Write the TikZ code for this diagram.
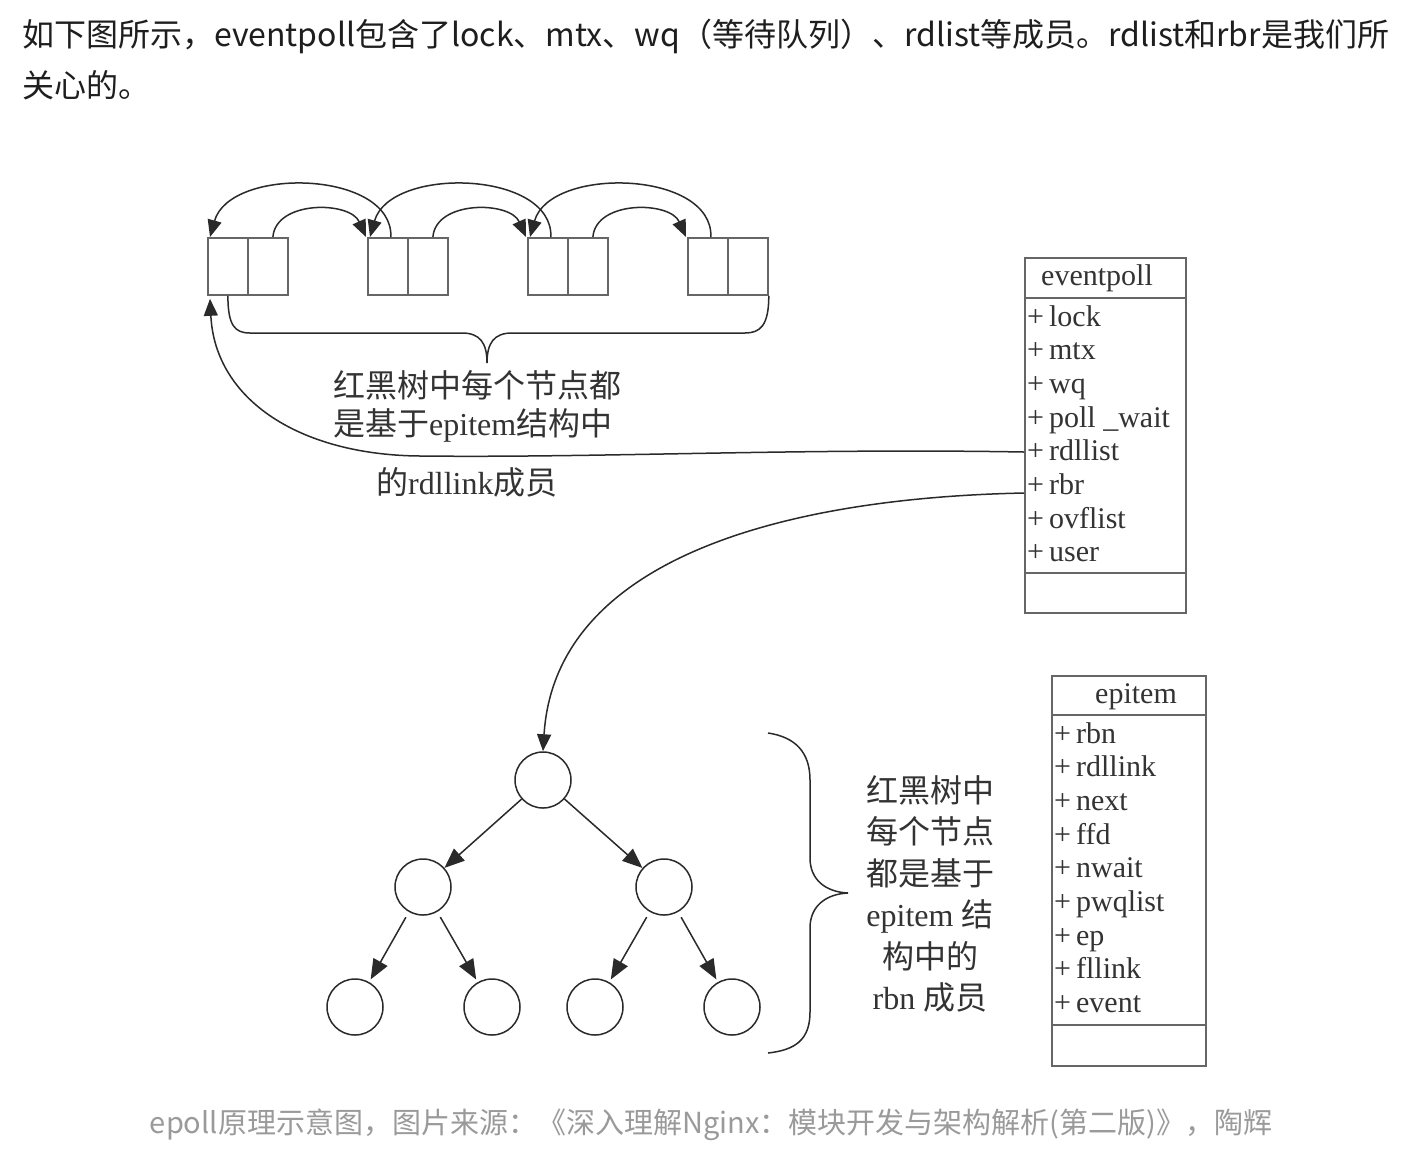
\documentclass[tikz,border=0pt]{standalone}
\usepackage{fontspec}
\setmainfont{Liberation Serif}
\newfontfamily\cjk{Noto Sans CJK SC}
\usetikzlibrary{arrows.meta,calc}
\definecolor{ink}{HTML}{2A2A2A}
\definecolor{boxc}{HTML}{666666}
\definecolor{txt}{HTML}{333333}
\definecolor{capc}{HTML}{9A9A9A}
\definecolor{hdr}{HTML}{1E1E1E}
\begin{document}
\begin{tikzpicture}[x=1pt,y=-1pt,
  cell/.style={draw=boxc, line width=1.8pt, minimum width=40pt, minimum height=57pt, inner sep=0pt, anchor=north west},
  arr/.style={draw=ink, line width=1.5pt, -{Triangle[length=17pt,width=14pt]}},
  tarr/.style={draw=ink, line width=1.5pt, -{Triangle[length=20pt,width=16pt]}},
  link/.style={draw=ink, line width=1.5pt},
  tnode/.style={circle, draw=ink, line width=1.5pt, minimum size=56pt, inner sep=0pt},
  classbox/.style={draw=boxc, line width=1.8pt, inner sep=0pt, anchor=north west},
  divline/.style={draw=boxc, line width=1.8pt},
  item/.style={anchor=base west, inner sep=0pt, text=txt, font=\fontsize{30}{34}\selectfont},
  ttl/.style={anchor=base, inner sep=0pt, text=txt, font=\fontsize{30}{34}\selectfont},
  lbl/.style={inner sep=0pt, text=txt, font=\fontsize{32}{40}\selectfont},
]
\fill[white] (0,0) rectangle (1402,1160);
\useasboundingbox (0,0) rectangle (1402,1160);

% header
\node[anchor=base west, inner sep=0pt, font=\cjk\fontsize{32}{40}\selectfont, text=hdr] (h1) at (22,46) {如下图所示，eventpoll包含了lock、mtx、wq（等待队列）、rdlist等成员。rdlist和rbr是我们所};
\node[anchor=base west, inner sep=0pt, font=\cjk\fontsize{32}{40}\selectfont, text=hdr] (h2) at (22,97) {关心的。};

% linked list cells
\foreach \i/\x in {1/207,2/367,3/527,4/687}{
  \node[cell] (a\i) at (\x,237) {};
  \node[cell] (b\i) at (\x+40,237) {};
}
% forward arcs
\foreach \i/\j in {1/2,2/3,3/4}{
  \draw[arr] ([xshift=5pt]b\i.north) .. controls +(3,-37) and +(-16,-36) .. ([xshift=-1pt]a\j.north west);
}
% backward arcs
\foreach \i/\j in {2/1,3/2,4/3}{
  \draw[arr] ([xshift=3pt]a\i.north) .. controls +(2,-67) and +(20,-71) .. ([xshift=3pt]a\j.north west);
}
% bottom brace
\draw[link] (a1.south) .. controls +(0,30) and +(-15,0) .. (250,333) -- (462,333)
  .. controls +(18,0) and +(0,-20) .. (487,363)
  .. controls +(0,-20) and +(-18,0) .. (512,333) -- (745,333)
  .. controls +(15,0) and +(0,30) .. (b4.south east);

% left label
\node[lbl, anchor=base west] (l1) at (333,397) {\cjk 红黑树中每个节点都};
\node[lbl, anchor=base west] (l2) at (333,435) {{\cjk 是基于}epitem{\cjk 结构中}};
\node[lbl, anchor=base west] (l3) at (376,494) {{\cjk 的}rdllink{\cjk 成员}};

% eventpoll class
\node[classbox, minimum width=161pt, minimum height=355pt] (ep) at (1024,257) {};
\draw[divline] (1024,298) -- (1185,298);
\draw[divline] (1024,573) -- (1185,573);
\node[ttl] (ept) at (1097,285) {eventpoll};
\foreach \k/\t in {1/lock,2/mtx,3/wq,4/poll \_wait,5/rdllist,6/rbr,7/ovflist,8/user}{
  \node[item] (e\k) at (1027,{326+33.7*(\k-1)}) {+\,\t};
}
\coordinate (rdl) at (1024,452);
\coordinate (rbrc) at (1024,493);

% epitem class
\node[classbox, minimum width=154pt, minimum height=390pt] (it) at (1051,675) {};
\draw[divline] (1051,715) -- (1205,715);
\draw[divline] (1051,1025) -- (1205,1025);
\node[ttl] (itt) at (1136,703) {epitem};
\foreach \k/\t in {1/rbn,2/rdllink,3/next,4/ffd,5/nwait,6/pwqlist,7/ep,8/fllink,9/event}{
  \node[item] (m\k) at (1054,{743+33.7*(\k-1)}) {+\,\t};
}

% tree
\node[tnode] (t0) at (543,780) {};
\node[tnode] (t1) at (423,887) {};
\node[tnode] (t2) at (664,887) {};
\node[tnode] (t3) at (355,1007) {};
\node[tnode] (t4) at (492,1007) {};
\node[tnode] (t5) at (595,1007) {};
\node[tnode] (t6) at (732,1007) {};
\draw[tarr] (t0) -- (t1);
\draw[tarr] (t0) -- (t2);
\draw[tarr, shorten <=6pt, shorten >=3pt] (t1) -- (t3);
\draw[tarr, shorten <=6pt, shorten >=3pt] (t1) -- (t4);
\draw[tarr, shorten <=6pt, shorten >=3pt] (t2) -- (t5);
\draw[tarr, shorten <=6pt, shorten >=3pt] (t2) -- (t6);

% connectors from eventpoll
\draw[arr] (rdl) .. controls (800,448) and (600,458) .. (420,456)
  .. controls (300,455) and (215,400) .. ([xshift=3pt,yshift=-3pt]a1.south west);
\draw[arr] (rbrc) .. controls (780,498) and (555,560) .. (t0.north);

% right brace
\draw[link] (768,733) .. controls (795,737) and (810,752) .. (810,780) -- (810,858)
  .. controls (810,880) and (826,892) .. (848,893)
  .. controls (826,894) and (810,906) .. (810,928) -- (810,1012)
  .. controls (810,1040) and (795,1050) .. (768,1053);

% right label
\node[lbl, anchor=base] (r1) at (930,802) {\cjk 红黑树中};
\node[lbl, anchor=base] (r2) at (930,843) {\cjk 每个节点};
\node[lbl, anchor=base] (r3) at (930,885) {\cjk 都是基于};
\node[lbl, anchor=base] (r4) at (930,926) {epitem {\cjk 结}};
\node[lbl, anchor=base] (r5) at (930,968) {\cjk 构中的};
\node[lbl, anchor=base] (r6) at (930,1009) {rbn {\cjk 成员}};

% caption
\node[anchor=base, inner sep=0pt, font=\cjk\fontsize{29}{34}\selectfont, text=capc] (cap) at (711,1133) {epoll原理示意图，图片来源：《深入理解Nginx：模块开发与架构解析(第二版)》，陶辉};
\end{tikzpicture}
\end{document}
